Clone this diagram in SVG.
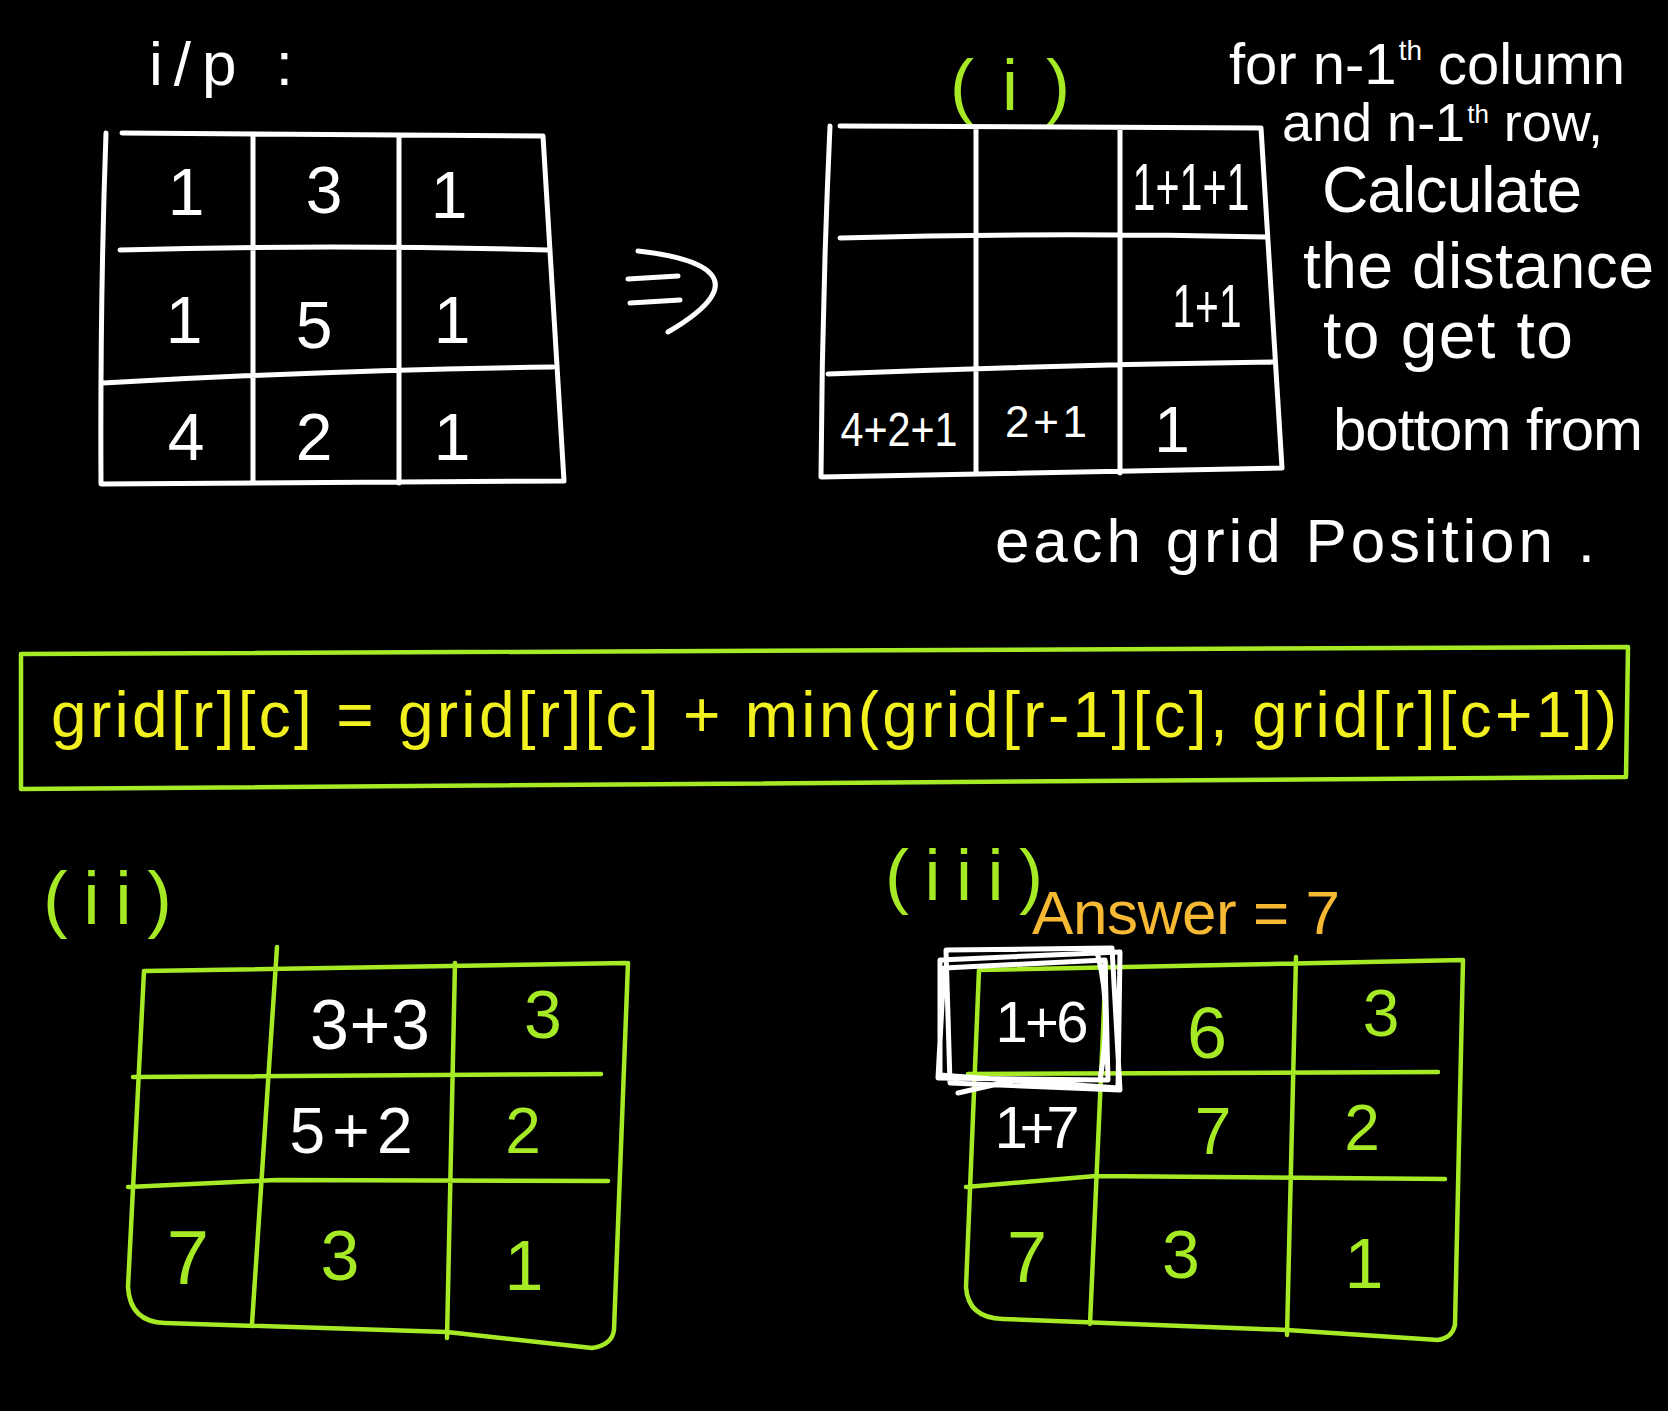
<svg xmlns="http://www.w3.org/2000/svg" width="1668" height="1411" viewBox="0 0 1668 1411">
<style>
.bg{fill:#000}
.w{fill:none;stroke:#ffffff;stroke-width:5;stroke-linecap:round;stroke-linejoin:round}
.g{fill:none;stroke:#a6ea26;stroke-width:4.5;stroke-linecap:round;stroke-linejoin:round}
.wt{fill:#ffffff;font-family:"Liberation Sans","DejaVu Sans",sans-serif}
.gt{fill:#a6ea26;font-family:"Liberation Sans","DejaVu Sans",sans-serif}
.yt{fill:#f2f01e;font-family:"Liberation Sans","DejaVu Sans",sans-serif}
.ot{fill:#f7b834;font-family:"Liberation Sans","DejaVu Sans",sans-serif}
.c{text-anchor:middle}
</style>
<rect class="bg" x="0" y="0" width="1668" height="1411"/>

<g id="label-input">
<text class="wt" x="149" y="85" font-size="62" textLength="144" lengthAdjust="spacing">i/p :</text>
</g>

<g id="grid-input">
<path class="w" d="M122 133 L543 136 M106 133 Q100 300 101 484 L564 481 M543 136 L564 481 M253 136 L253 481 M399 138 L399 483 M120 250 Q330 244 548 250 M103 383 Q330 370 553 367"/>
<g class="wt c" font-size="66">
<text x="186" y="215">1</text><text x="324" y="213">3</text><text x="449" y="218">1</text>
<text x="184" y="343">1</text><text x="314" y="348">5</text><text x="452" y="343">1</text>
<text x="186" y="460">4</text><text x="314" y="460">2</text><text x="452" y="460">1</text>
</g>
</g>

<g id="connectors">
<path class="w" d="M628 279 L678 276 M630 303 L680 300 M638 251 C700 258 760 278 668 332"/>
</g>

<g id="label-i">
<text class="gt c" x="1010" y="110" font-size="72" textLength="120" lengthAdjust="spacing">( i )</text>
</g>

<g id="grid-step1">
<path class="w" d="M840 126 L1261 128 M830 126 Q822 300 821 477 L1282 468 M1261 128 L1282 468 M976 128 L976 473 M1120 130 L1120 473 M840 238 Q1050 232 1266 237 M828 374 Q1050 365 1273 362"/>
<text class="wt c" x="1191" y="210" font-size="66" textLength="117" lengthAdjust="spacingAndGlyphs">1+1+1</text>
<text class="wt c" x="1207" y="327" font-size="62" textLength="69" lengthAdjust="spacingAndGlyphs">1+1</text>
<text class="wt c" x="899" y="446" font-size="48" textLength="117" lengthAdjust="spacingAndGlyphs">4+2+1</text>
<text class="wt c" x="1046" y="437" font-size="44" textLength="82" lengthAdjust="spacing">2+1</text>
<text class="wt c" x="1172" y="452" font-size="64">1</text>
</g>

<g id="note">
<text class="wt" x="1229" y="84" font-size="58">for n-1<tspan font-size="28" dx="2" dy="-24">th</tspan><tspan dy="24"> column</tspan></text>
<text class="wt" x="1282" y="141" font-size="54">and n-1<tspan font-size="26" dx="2" dy="-18">th</tspan><tspan dy="18"> row,</tspan></text>
<text class="wt" x="1322" y="212" font-size="64" textLength="260" lengthAdjust="spacing">Calculate</text>
<text class="wt" x="1303" y="288" font-size="64" textLength="351" lengthAdjust="spacing">the distance</text>
<text class="wt" x="1323" y="358" font-size="66" textLength="250" lengthAdjust="spacing">to get to</text>
<text class="wt" x="1333" y="450" font-size="60" textLength="310" lengthAdjust="spacing">bottom from</text>
<text class="wt" x="995" y="562" font-size="62" textLength="600" lengthAdjust="spacing">each grid Position .</text>
</g>

<g id="formula">
<path class="g" d="M21 654 L1628 647 L1626 777 L21 789 Z"/>
<text class="yt" x="51" y="737" font-size="64" textLength="1566" lengthAdjust="spacing">grid[r][c] = grid[r][c] + min(grid[r-1][c], grid[r][c+1])</text>
</g>

<g id="label-ii">
<text class="gt" x="43" y="924" font-size="74" textLength="129" lengthAdjust="spacing">(ii)</text>
</g>

<g id="grid-step2">
<path class="g" d="M144 971 L626 963 M144 971 L128 1287 Q130 1322 165 1323 L447 1332 L592 1348 Q612 1345 614 1330 L628 963 M277 947 L252 1324 M455 963 L447 1338 M133 1077 L601 1074 M128 1187 L277 1180 L608 1181"/>
<text class="wt c" x="370" y="1049" font-size="70" textLength="120" lengthAdjust="spacing">3+3</text>
<text class="gt c" x="543" y="1038" font-size="68">3</text>
<text class="wt c" x="351" y="1153" font-size="64" textLength="123" lengthAdjust="spacing">5+2</text>
<text class="gt c" x="523" y="1153" font-size="64">2</text>
<text class="gt c" x="188" y="1284" font-size="76">7</text>
<text class="gt c" x="340" y="1280" font-size="70">3</text>
<text class="gt c" x="524" y="1290" font-size="70">1</text>
</g>

<g id="label-iii">
<text class="gt" x="885" y="900" font-size="72" textLength="158" lengthAdjust="spacing">(iii)</text>
</g>

<g id="label-answer">
<text class="ot" x="1032" y="934" font-size="62" textLength="308" lengthAdjust="spacing">Answer = 7</text>
</g>

<g id="grid-step3">
<path class="g" d="M979 970 L1463 960 M979 970 L966 1287 Q968 1318 1003 1319 L1287 1330 L1438 1340 Q1452 1338 1455 1325 L1463 960 M1106 963 L1090 1324 M1296 957 L1287 1335 M968 1074 L1438 1072 M966 1187 L1096 1176 L1445 1179"/>
<text class="wt c" x="1042" y="1042" font-size="58" textLength="93" lengthAdjust="spacing">1+6</text>
<text class="gt c" x="1207" y="1058" font-size="72">6</text>
<text class="gt c" x="1381" y="1036" font-size="66">3</text>
<text class="wt c" x="1037" y="1148" font-size="60" textLength="85" lengthAdjust="spacing">1+7</text>
<text class="gt c" x="1213" y="1154" font-size="66">7</text>
<text class="gt c" x="1362" y="1150" font-size="64">2</text>
<text class="gt c" x="1027" y="1282" font-size="72">7</text>
<text class="gt c" x="1181" y="1278" font-size="68">3</text>
<text class="gt c" x="1364" y="1288" font-size="70">1</text>
<path class="w" stroke-width="4" d="M940 960 L1120 952 L1118 1088 L940 1075 Z M946 950 L1112 948 L1120 1090 L950 1083 Z M944 968 L1105 960 L1108 1080 L938 1078 Z M1098 956 Q1112 1010 1100 1080 M958 1093 L1015 1080"/>
</g>
</svg>
